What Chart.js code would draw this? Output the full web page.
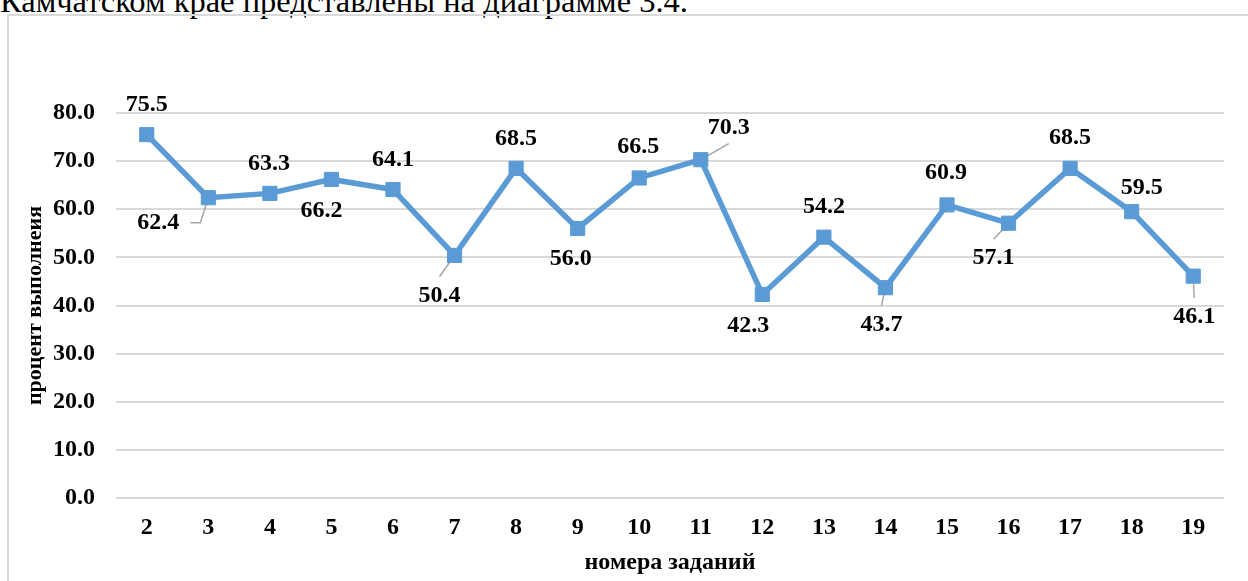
<!DOCTYPE html>
<html>
<head>
<meta charset="utf-8">
<script src="https://cdn.jsdelivr.net/npm/chart.js@4/dist/chart.umd.min.js"></script>
<style>
  html, body { margin: 0; padding: 0; background: #fff; overflow: hidden; }
  #lead {
    position: absolute; left: 0; top: -15px; white-space: nowrap;
    font: 32.5px/32.5px "Liberation Serif", "Times New Roman", serif; color: #000;
  }
  #frame {
    position: absolute; left: 7px; top: 14px; width: 1300px; height: 620px;
    border: 2px solid #d9d9d9; box-sizing: border-box;
  }
  #wrap { position: absolute; left: 0; top: 0; width: 1248px; height: 581px; }
</style>
</head>
<body>
<div id="lead">Камчатском крае представлены на диаграмме 3.4.</div>
<div id="frame"></div>
<div id="wrap"><canvas id="taskChart"></canvas></div>
<script>
// Номера заданий и процент выполнения
const taskNumbers = ['2', '3', '4', '5', '6', '7', '8', '9', '10', '11', '12', '13', '14', '15', '16', '17', '18', '19'];
const completionPct = [75.5, 62.4, 63.3, 66.2, 64.1, 50.4, 68.5, 56.0, 66.5, 70.3, 42.3, 54.2, 43.7, 60.9, 57.1, 68.5, 59.5, 46.1];

// Смещение подписей относительно точек (px) и тип выноски
const labelShift = [
    [0, -30], [-50, 25], [-1, -30], [-10, 31], [0, -30], [-15, 40],
    [0, -30], [-7, 30], [-1, -31], [28, -32], [-14, 31], [0, -30],
    [-4, 37], [-1, -32], [-15, 35], [0, -31], [10, -24], [1, 41]
];
const labelLeader = [null, 'side', null, null, null, 'v', null, null, null, 'v', null, null, 'v', null, 'v', null, null, 'v'];

const serif = '"Liberation Serif", "Times New Roman", serif';
const lineBlue = '#5b9bd5';

// Подписи данных с выносками
const pointLabels = {
    id: 'pointLabels',
    beforeDatasetsDraw(chart) {
        const ctx = chart.ctx;
        const meta = chart.getDatasetMeta(0);
        ctx.save();
        ctx.strokeStyle = '#a6a6a6';
        ctx.lineWidth = 1.5;
        meta.data.forEach((pt, i) => {
            const kind = labelLeader[i];
            if (!kind) return;
            const lx = pt.x + labelShift[i][0];
            const ly = pt.y + labelShift[i][1];
            ctx.beginPath();
            if (kind === 'side') {
                ctx.moveTo(lx + 32, ly);
                ctx.lineTo(lx + 42, ly);
            } else if (pt.y > ly) {
                ctx.moveTo(lx, ly + 16);
            } else {
                ctx.moveTo(lx, ly - 19);
            }
            ctx.lineTo(pt.x, pt.y);
            ctx.stroke();
        });
        ctx.restore();
    },
    afterDatasetsDraw(chart) {
        const ctx = chart.ctx;
        const meta = chart.getDatasetMeta(0);
        ctx.save();
        ctx.font = 'bold 24px ' + serif;
        ctx.fillStyle = '#000';
        ctx.textAlign = 'center';
        ctx.textBaseline = 'middle';
        meta.data.forEach((pt, i) => {
            const txt = completionPct[i].toFixed(1);
            ctx.fillText(txt, pt.x + labelShift[i][0], pt.y + labelShift[i][1]);
        });
        ctx.restore();
    }
};

const ctx = document.getElementById('taskChart').getContext('2d');
new Chart(ctx, {
    type: 'line',
    data: {
        labels: taskNumbers,
        datasets: [{
            data: completionPct,
            borderColor: lineBlue,
            backgroundColor: lineBlue,
            borderWidth: 5.5,
            tension: 0,
            pointStyle: 'rect',
            pointRadius: 10,
            pointBorderWidth: 1,
            pointBorderColor: lineBlue,
            pointBackgroundColor: lineBlue,
            clip: false
        }]
    },
    options: {
        responsive: true,
        maintainAspectRatio: false,
        animation: false,
        layout: { padding: { left: 0, right: 24, top: 113, bottom: 0 } },
        plugins: { legend: { display: false }, tooltip: { enabled: false } },
        scales: {
            x: {
                offset: true,
                grid: { display: false, drawTicks: false },
                border: { display: false },
                ticks: { color: '#000', padding: 15, maxRotation: 0, font: { family: serif, size: 24, weight: 'bold' } },
                title: {
                    display: true, text: 'номера заданий', color: '#000',
                    font: { family: serif, size: 24, weight: 'bold' },
                    padding: { top: 0, bottom: 4 }
                },
                afterFit: s => { s.height = 83; }
            },
            y: {
                min: 0,
                max: 80,
                ticks: {
                    stepSize: 10, color: '#000', padding: 21,
                    font: { family: serif, size: 24, weight: 'bold' },
                    callback: v => v.toFixed(1)
                },
                grid: { color: '#d9d9d9', lineWidth: 2, drawTicks: false },
                border: { display: false },
                title: {
                    display: true, text: 'процент выполнеия', color: '#000',
                    font: { family: serif, size: 22, weight: 'bold' },
                    padding: { top: 22, bottom: 0 }
                },
                afterFit: s => { s.width = 116; }
            }
        }
    },
    plugins: [pointLabels]
});
</script>
</body>
</html>
